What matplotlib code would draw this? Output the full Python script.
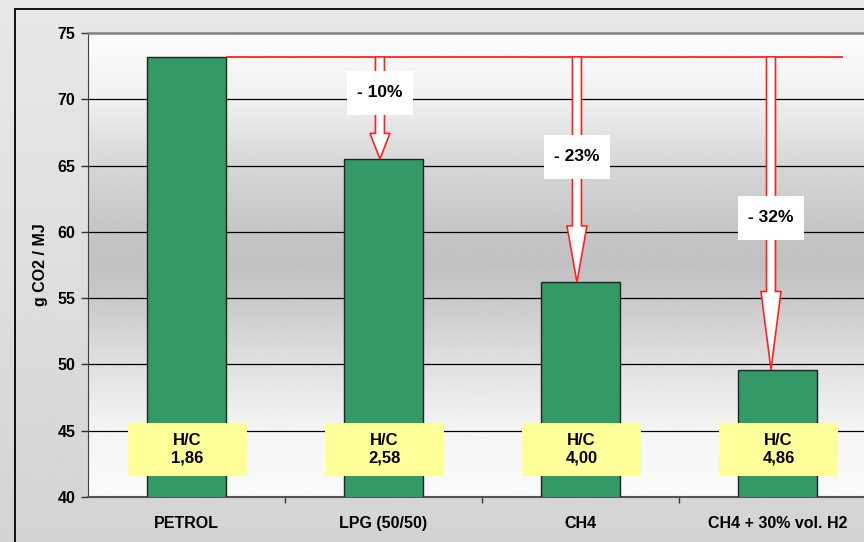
import numpy as np
import matplotlib
matplotlib.use("Agg")
import matplotlib.pyplot as plt
from matplotlib.patches import Rectangle, Polygon
from matplotlib.transforms import IdentityTransform

plt.rcParams['font.family'] = ['Liberation Sans', 'DejaVu Sans']
plt.rcParams['font.weight'] = 'bold'

fuels = ['PETROL', 'LPG (50/50)', 'CH4', 'CH4 + 30% vol. H2']
co2 = [73.2, 65.5, 56.2, 49.6]          # g CO2 / MJ
hc_ratio = ['1,86', '2,58', '4,00', '4,86']
y_ticks = [40, 45, 50, 55, 60, 65, 70, 75]

fig = plt.figure(figsize=(8.64, 5.42), dpi=100)

# grey page background with frame
bg = fig.add_axes([0, 0, 1, 1], zorder=-5)
bg.imshow(np.linspace(0.91, 0.83, 256).reshape(-1, 1), cmap='gray', vmin=0, vmax=1,
          aspect='auto', extent=[0, 1, 0, 1])
bg.set_axis_off()
fig.patches.append(Rectangle((15 / 864, -0.1), 2, (542 - 9) / 542 + 0.1,
                             transform=fig.transFigure, fc='none', ec='black', lw=1.3))

ax = fig.add_axes([88 / 864, 45 / 542, 788 / 864, 464 / 542])
ax.set_xlim(-0.5, 3.5)
ax.set_ylim(40, 75)

# plot area: white -> grey -> white
stops_y = [40, 45, 50, 55, 57.5, 60, 65, 70, 75]
stops_v = [250, 245, 224, 201, 193, 197, 214, 240, 253]
ys = np.linspace(40, 75, 400)
shade = np.interp(ys, stops_y, stops_v) / 255.0
ax.imshow(shade[::-1].reshape(-1, 1), cmap='gray', vmin=0, vmax=1, aspect='auto',
          extent=[-0.5, 3.5, 40, 75], zorder=0)

for y in y_ticks[1:-1]:
    ax.axhline(y, color='black', lw=0.9, zorder=1)

x = np.arange(len(fuels))
ax.bar(x, co2, bottom=0, width=0.4, color='#339966', edgecolor='#222222', lw=1, zorder=3)

ax.set_yticks(y_ticks)
ax.set_xticks(x)
ax.set_xticklabels(fuels)
ax.set_xticks(np.arange(0.5, 3.5, 1), minor=True)
ax.tick_params(axis='y', labelsize=11.5, length=5, width=1, pad=4, color='#333333')
ax.tick_params(axis='x', which='major', labelsize=11.5, length=0, pad=14)
ax.tick_params(axis='x', which='minor', length=4, width=1, color='#333333')
ax.set_ylabel('g CO2 / MJ', fontsize=11.5, fontweight='bold')
ax.yaxis.set_label_coords(-0.051, 0.5)

ax.spines['top'].set_color('#808080')
ax.spines['top'].set_linewidth(1.8)
ax.spines['right'].set_visible(False)
ax.spines['left'].set_color('#404040')
ax.spines['bottom'].set_color('#555555')
ax.spines['bottom'].set_linewidth(1.5)

# reference line at petrol level
ax.plot([0.2, 3.33], [co2[0], co2[0]], color='#ff2020', lw=1.3, zorder=4,
        solid_capstyle='butt')

# hollow drop arrows from the petrol line to each bar
fig.canvas.draw()
to_px = ax.transData.transform
label_y = [70.5, 65.65, 61.05]
arrow_dx = [-0.018, -0.018, -0.033]
for i in range(1, len(fuels)):
    ax_x = i + arrow_dx[i - 1]
    (px, top), (_, tip) = to_px([(ax_x, co2[0]), (ax_x, co2[i])])
    neck = tip + 0.25 * (top - tip)
    sw, hw = 4.5, 10
    verts = [(px - sw, top), (px + sw, top), (px + sw, neck), (px + hw, neck),
             (px, tip), (px - hw, neck), (px - sw, neck)]
    ax.add_patch(Polygon(verts, closed=True, fc='white', ec='#ff2020', lw=1.2,
                         transform=IdentityTransform(), zorder=4))
    drop = int((1 - co2[i] / co2[0]) * 100)
    yc = label_y[i - 1]
    ax.add_patch(Rectangle((ax_x - 0.1675, yc - 1.66), 0.335, 3.32, fc='white',
                           ec='none', zorder=5))
    ax.text(ax_x, yc, f'- {drop}%', ha='center', va='center', fontsize=12.5,
            fontweight='bold', zorder=6)

# H/C ratio boxes
for i, hc in enumerate(hc_ratio):
    ax.add_patch(Rectangle((i + 0.005 - 0.302, 43.59 - 2.0), 0.604, 4.0, fc='#ffff99',
                           ec='none', zorder=5))
    ax.text(i + 0.005, 43.59, f'H/C\n{hc}', ha='center', va='center', fontsize=12,
            fontweight='bold', linespacing=1.25, zorder=6)

fig.savefig('out.png', dpi=100)
